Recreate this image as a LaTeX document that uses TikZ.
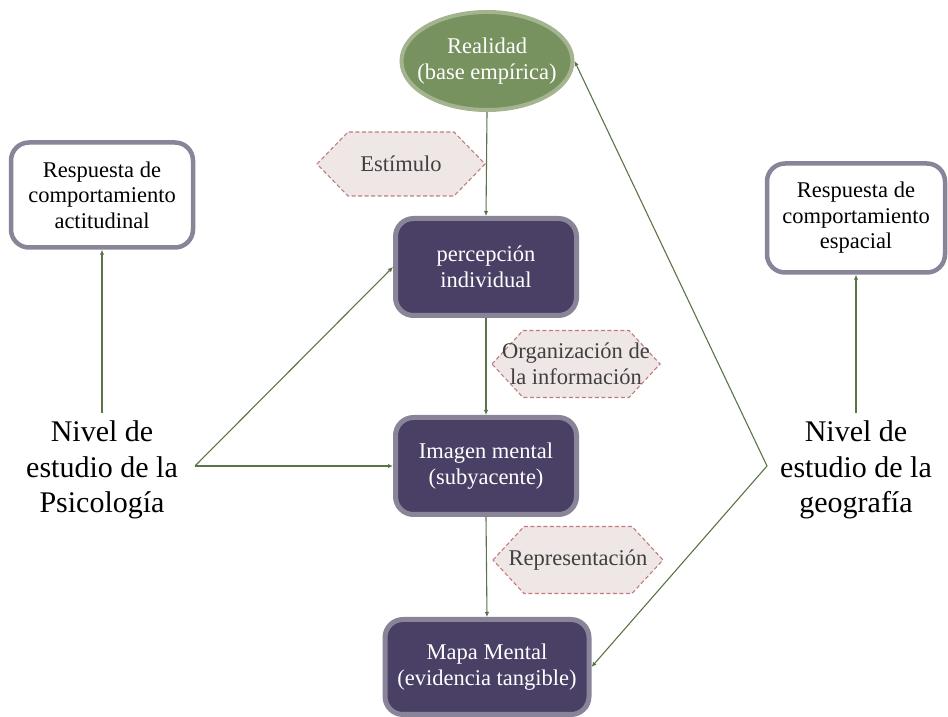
\documentclass[tikz,border=0pt]{standalone}
\usepackage{fontspec}
\setmainfont{Liberation Serif}
\usetikzlibrary{shapes.geometric,arrows.meta,backgrounds,calc}

\definecolor{linkgreen}{HTML}{5B7447}
\definecolor{realfill}{HTML}{77915F}
\definecolor{realedge}{HTML}{A3B48F}
\definecolor{stagefill}{HTML}{4A4066}
\definecolor{stageedge}{HTML}{8A8498}
\definecolor{hexfill}{HTML}{EFE6E6}
\definecolor{hexedge}{HTML}{C27C7F}
\definecolor{hextext}{HTML}{404040}

\tikzset{
  x=1pt, y=1pt,
  basetext/.style={font=\fontsize{22.5}{25.5}\selectfont, align=center, inner sep=0pt},
  reality/.style={basetext, ellipse, draw=realedge, line width=4pt, fill=realfill,
    text=white, inner xsep=-12pt, minimum width=171, minimum height=98},
  stage/.style={basetext, rectangle, rounded corners=18pt, draw=stageedge, line width=5pt,
    fill=stagefill, text=white},
  response/.style={basetext, rectangle, rounded corners=18pt, draw=stageedge, line width=4.5pt,
    fill=white, text=black},
  hexlabel/.style={basetext, text=hextext},
  hexshape/.style={fill=hexfill, draw=hexedge, line width=1.1pt, dash pattern=on 4pt off 2.5pt},
  level/.style={font=\fontsize{30}{35.5}\selectfont, align=center, inner sep=0pt},
  link/.style={draw=linkgreen, line width=1.1pt, -{Latex[length=5pt,width=4.5pt]}}
}

% hexagonal tag drawn behind a label node: #1 node, #2 half width, #3 half height, #4 tip inset
\newcommand{\hextag}[4]{%
  \begin{pgfonlayer}{background}
    \path[hexshape]
      ($(#1.center)+(-#2,0)$) -- ($(#1.center)+(-#2+#4,#3)$) -- ($(#1.center)+(#2-#4,#3)$)
      -- ($(#1.center)+(#2,0)$) -- ($(#1.center)+(#2-#4,-#3)$) -- ($(#1.center)+(-#2+#4,-#3)$) -- cycle;
  \end{pgfonlayer}}

\begin{document}
\begin{tikzpicture}
\useasboundingbox (0,0) rectangle (948,717);

% central chain
\node[reality] (real) at (487,656) {Realidad\\(base empírica)};
\node[stage, minimum width=181, minimum height=97] (perc) at (486,450) {percepción\\individual};
\node[stage, minimum width=181, minimum height=97] (imag) at (486,251) {Imagen mental\\(subyacente)};
\node[stage, minimum width=204, minimum height=95] (mapa) at (487,50) {Mapa Mental\\(evidencia tangible)};

% process tags
\node[hexlabel] (estim) at (401,553) {Estímulo};
\hextag{estim}{84}{32}{31}
\node[hexlabel] (orga) at (576,353) {Organización de\\la información};
\hextag{orga}{84}{33.5}{31}
\node[hexlabel] (repr) at (578,157) {Representación};
\hextag{repr}{85}{33.5}{31}

% response boxes
\node[response, minimum width=182, minimum height=105] (rleft) at (102,522)
  {Respuesta de\\comportamiento\\actitudinal};
\node[response, minimum width=178, minimum height=109] (rright) at (856,499)
  {Respuesta de\\comportamiento\\espacial};

% study levels
\node[level] (psico) at (102,247) {Nivel de\\estudio de la\\Psicología};
\node[level] (geo) at (856,247) {Nivel de\\estudio de la\\geografía};

\coordinate (psicotop) at (102,304);
\coordinate (geotop) at (856,304);
\coordinate (psicojoin) at (195,251);
\coordinate (geojoin) at (767,251);

% connectors
\draw[link] (real.south) -- (perc.north);
\draw[link] (perc.south) -- (imag.north);
\draw[link] (imag.south) -- (mapa.north);

\draw[link] (psicotop) -- (rleft.south);
\draw[link] (geotop) -- (rright.south);

\draw[link] (psicojoin) -- (perc.west);
\draw[link] (psicojoin) -- (imag.west);
\draw[link] (geojoin) -- (real.east);
\draw[link] (geojoin) -- (mapa.east);
\end{tikzpicture}
\end{document}
